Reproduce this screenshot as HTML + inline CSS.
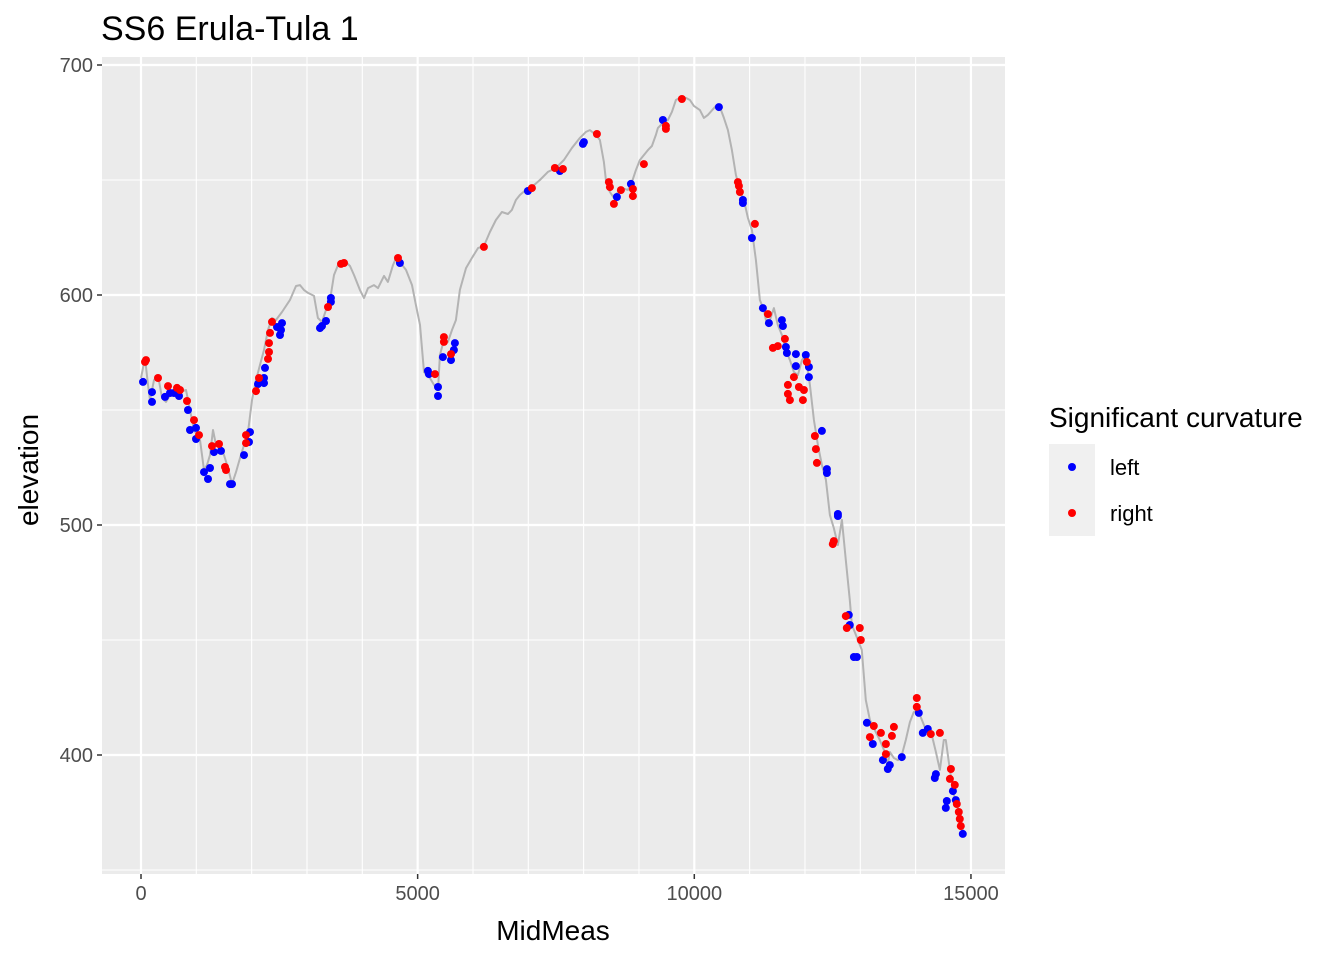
<!DOCTYPE html>
<html><head><meta charset="utf-8"><style>
html,body{margin:0;padding:0;background:#fff;}
svg{display:block;font-family:"Liberation Sans",Arial,sans-serif;}
</style></head><body>
<svg id="chart" width="1344" height="960" viewBox="0 0 1344 960">
<text x="101" y="40" font-size="34" fill="#000">SS6 Erula-Tula 1</text>
<rect x="102" y="57" width="903" height="817" fill="#ebebeb"/>
<g id="grid"></g>
<g id="ticks"></g>
<path id="profile" fill="none" stroke="#b3b3b3" stroke-width="2" stroke-linejoin="round"/>
<g id="pts"></g>
<text x="553" y="940" font-size="28" text-anchor="middle" fill="#000">MidMeas</text>
<text transform="translate(38,470) rotate(-90)" font-size="28" text-anchor="middle" fill="#000">elevation</text>
<g>
<text x="1049" y="427" font-size="28" fill="#000">Significant curvature</text>
<rect x="1049" y="444" width="46" height="92" fill="#f0f0f0"/>
<circle cx="1072" cy="467" r="4" fill="#0000ff"/>
<circle cx="1072" cy="513" r="4" fill="#ff0000"/>
<text x="1110" y="475" font-size="22" fill="#000">left</text>
<text x="1110" y="521" font-size="22" fill="#000">right</text>
</g>
</svg>
<script>
const xTicks=[0,5000,10000,15000];
const yTicks=[400,500,600,700];
const lineX=[0,72,126,163,235,307,379,452,560,705,813,885,958,1066,1138,1193,1247,1301,1355,1428,1500,1572,1644,1717,1789,1933,2006,2078,2150,2223,2295,2367,2439,2548,2692,2801,2873,2945,3018,3126,3198,3271,3343,3415,3488,3560,3704,3777,3849,3957,4030,4102,4210,4283,4391,4463,4554,4608,4680,4789,4897,4969,5042,5114,5222,5295,5367,5403,5475,5547,5620,5692,5764,5873,5981,6090,6198,6306,6415,6523,6632,6704,6776,6849,6957,7102,7210,7354,7499,7644,7788,7933,8041,8113,8222,8294,8366,8402,8475,8547,8619,8692,8800,8872,8945,9017,9162,9234,9306,9342,9451,9523,9595,9667,9740,9848,9920,9993,10101,10173,10245,10390,10463,10535,10607,10680,10752,10824,10896,10969,11041,11113,11185,11258,11294,11366,11438,11510,11583,11655,11727,11800,11872,11944,12016,12089,12161,12233,12306,12378,12450,12522,12595,12667,12739,12811,12848,12920,12956,13028,13100,13173,13281,13353,13426,13498,13534,13607,13679,13751,13823,13896,13968,14040,14113,14185,14293,14366,14438,14510,14546,14619,14691,14799,14872];
const lineY=[563.9,572.6,560.9,554.3,563.0,565.2,555.2,553.5,557.8,557.8,558.7,550.0,541.3,537.0,523.9,526.1,530.4,541.3,534.8,534.8,530.4,524.8,517.8,523.0,529.1,540.4,554.3,563.0,569.6,576.1,584.8,590.0,589.1,592.6,597.8,603.9,604.3,602.2,600.9,599.6,590.0,588.3,593.5,597.8,608.7,613.0,614.3,612.6,608.7,602.2,598.7,603.0,604.3,603.0,608.3,605.7,613.0,616.1,614.3,610.9,604.3,595.7,587.0,566.5,563.9,560.9,558.7,573.9,580.4,579.6,584.8,589.1,602.2,611.7,616.1,620.4,621.3,627.4,632.6,636.1,635.2,637.0,641.3,643.5,645.7,647.8,650.0,653.5,655.2,658.7,663.9,668.3,670.9,671.7,669.6,667.4,657.8,650.0,644.8,642.2,644.8,646.5,645.7,649.1,654.3,658.7,663.0,664.8,669.6,672.6,675.2,676.1,679.6,684.8,685.7,685.7,684.8,682.2,680.4,677.0,678.3,682.2,681.7,677.0,671.7,663.0,652.2,645.7,641.3,633.5,628.3,615.2,597.8,593.5,589.1,589.1,594.3,587.0,582.6,576.1,571.7,566.5,565.2,571.7,573.9,560.9,545.7,534.8,526.1,519.6,504.3,498.7,491.3,502.2,484.8,467.4,456.5,452.2,450.0,445.7,423.9,415.2,410.0,406.5,402.2,395.7,401.3,398.7,397.8,400.0,406.5,414.3,418.7,419.6,415.2,410.9,408.7,401.3,393.5,406.5,406.5,393.5,382.6,373.9,365.2];
const leftX=[36,199,199,434,524,596,687,849,885,994,994,1319,1446,1138,1247,1211,1608,1644,1861,1970,1952,2114,2223,2223,2241,2458,2512,2548,2530,3235,3271,3343,3433,3433,4680,5186,5204,5367,5367,5457,5602,5674,5656,6993,7571,8005,7987,8601,8854,9433,10444,10878,10878,11041,11239,11348,11583,11601,11655,11673,11836,11836,12016,12071,12071,12306,12396,12396,12595,12595,12793,12811,12884,12938,13119,13227,13408,13498,13534,13751,14058,14130,14221,14347,14366,14673,14564,14546,14727,14853];
const leftY=[562.2,557.8,553.5,555.7,557.4,557.4,556.1,550.0,541.3,542.2,537.4,531.7,532.2,523.0,524.8,520.0,517.8,517.8,530.4,540.4,536.1,561.3,561.7,563.9,568.3,586.1,582.6,587.8,584.8,585.6,586.5,588.7,598.7,597.0,613.9,567.0,565.6,560.0,556.1,573.0,571.7,579.1,576.1,645.2,653.9,666.5,665.7,642.6,648.3,676.1,681.7,641.3,640.0,624.8,594.3,587.8,589.1,586.5,577.4,574.8,574.3,569.1,573.9,568.7,564.3,540.9,524.3,522.6,503.9,504.8,460.9,456.5,442.6,442.6,414.0,404.8,397.8,393.9,395.6,399.1,418.3,409.6,411.3,390.0,391.7,384.3,380.0,377.0,380.4,365.7];
const rightX=[90,72,307,488,651,705,831,958,1048,1283,1409,1518,1536,1897,1897,2078,2132,2295,2313,2313,2331,2367,3379,3614,3668,4644,5313,5475,5475,5602,6198,7065,7481,7626,8240,8457,8475,8547,8674,8890,8890,9089,9487,9487,9776,10788,10806,10824,11095,11330,11420,11510,11637,12034,11691,11800,11727,11691,11890,11962,11980,12179,12197,12215,12504,12522,12739,12757,12992,13010,13245,13173,13372,13462,13462,13607,13571,14022,14022,14275,14438,14637,14619,14709,14745,14781,14799,14817];
const rightY=[571.7,570.9,563.9,560.4,559.6,558.7,553.9,545.6,539.1,534.3,535.2,525.2,523.9,539.1,535.6,558.2,563.9,572.2,575.2,579.1,583.5,588.3,594.8,613.5,613.9,616.1,565.6,581.7,579.6,574.3,620.9,646.5,655.2,654.8,670.0,649.1,646.9,639.6,645.6,646.1,643.0,656.9,673.5,672.2,685.2,649.1,647.4,644.8,630.9,591.7,577.0,577.8,580.9,570.9,560.9,564.3,554.3,557.0,560.0,554.3,558.7,538.7,533.0,527.0,491.7,493.0,460.4,455.2,455.2,450.0,412.6,407.8,409.6,404.8,400.4,412.2,408.3,424.8,420.9,409.1,409.6,393.9,389.6,387.0,378.7,375.2,372.2,369.1];

const NS='http://www.w3.org/2000/svg';
const X0=102,X1=1005,Y0=57,Y1=874;
function sx(v){return 141+v*0.05533;}
function sy(v){return 65+(700-v)*2.3;}
const grid=document.getElementById('grid');
function line(g,x1,y1,x2,y2,c,w){const l=document.createElementNS(NS,'line');l.setAttribute('x1',x1);l.setAttribute('y1',y1);l.setAttribute('x2',x2);l.setAttribute('y2',y2);l.setAttribute('stroke',c);l.setAttribute('stroke-width',w);g.appendChild(l);return l;}
for(let v=0;v<=15000;v+=1000){const major=v%5000===0;const l=line(grid,sx(v),Y0,sx(v),Y1,'#fff',major?2.2:1.1);

}
for(let v=350;v<=700;v+=50){const major=v%100===0;const l=line(grid,X0,sy(v),X1,sy(v),'#fff',major?2.2:1.1);

}
const tk=document.getElementById('ticks');
xTicks.forEach(v=>{const l=line(tk,sx(v),Y1,sx(v),Y1+5,'#333',1.5);


const t=document.createElementNS(NS,'text');t.setAttribute('x',sx(v));t.setAttribute('y',Y1+26);t.setAttribute('text-anchor','middle');t.setAttribute('font-size','20');t.setAttribute('fill','#4d4d4d');t.textContent=v;


tk.appendChild(t);});
yTicks.forEach(v=>{const l=line(tk,X0-5,sy(v),X0,sy(v),'#333',1.5);


const t=document.createElementNS(NS,'text');t.setAttribute('x',X0-9);t.setAttribute('y',sy(v)+7);t.setAttribute('text-anchor','end');t.setAttribute('font-size','20');t.setAttribute('fill','#4d4d4d');t.textContent=v;


tk.appendChild(t);});
let d='';lineX.forEach((v,i)=>{d+=(i?'L':'M')+sx(v).toFixed(1)+','+sy(lineY[i]).toFixed(1);});
document.getElementById('profile').setAttribute('d',d);
const pts=document.getElementById('pts');
function dot(x,y,c,name){const ci=document.createElementNS(NS,'circle');ci.setAttribute('cx',sx(x).toFixed(1));ci.setAttribute('cy',sy(y).toFixed(1));ci.setAttribute('r','4');ci.setAttribute('fill',c);


pts.appendChild(ci);}
leftX.forEach((v,i)=>dot(v,leftY[i],'#0000ff','point-left'));
rightX.forEach((v,i)=>dot(v,rightY[i],'#ff0000','point-right'));
</script>
</body></html>
